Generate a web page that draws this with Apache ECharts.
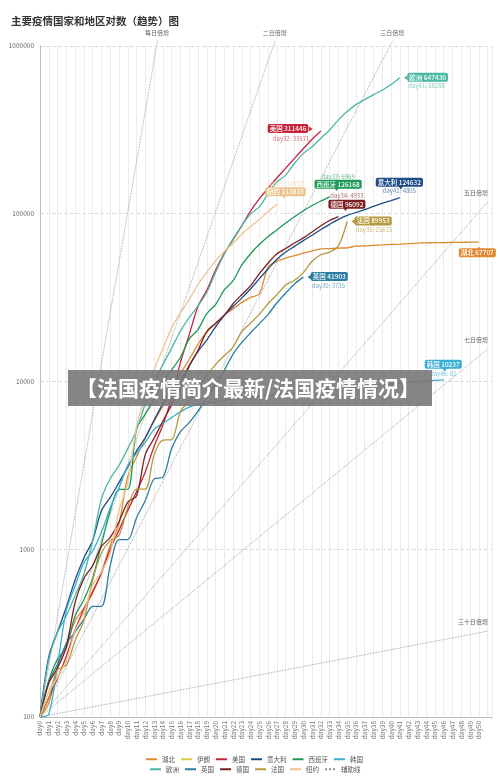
<!DOCTYPE html>
<html>
<head>
<meta charset="utf-8">
<title>主要疫情国家和地区对数（趋势）图</title>
<script src="https://cdn.jsdelivr.net/npm/echarts@6/dist/echarts.min.js"></script>
<style>
html, body { margin: 0; padding: 0; background: #fff; }
#main { width: 500px; height: 778px; }
</style>
</head>
<body>
<div id="main"></div>
<script>
// 累计确诊数，从第100例起按天排列（day0 起）
var hubei = [100, 121, 198, 270, 375, 444, 549, 729, 1052, 1423, 2714, 3554, 4586, 5806, 7153, 9074, 11177, 13522, 16678, 19665, 22112, 24953, 27100, 29631, 31728, 33366, 48206, 51986, 54406, 56249, 58182, 59989, 61682, 62031, 62442, 62662, 64084, 64287, 64786, 65187, 65596, 65914, 66337, 66907, 67103, 67217, 67332, 67466, 67592, 67666, 67707];
var iran = [];
var usa = [100, 130, 170, 230, 330, 440, 560, 720, 1000, 1300, 1700, 2200, 2900, 4100, 5500, 8000, 13000, 19000, 28000, 35000, 46000, 58000, 70000, 85000, 104000, 123000, 142000, 164000, 187000, 214000, 244000, 277875, 311446];
var italy = [100, 229, 322, 453, 655, 888, 1128, 1694, 2036, 2502, 3089, 3858, 4636, 5883, 7375, 9172, 10149, 12462, 15113, 17660, 21157, 24747, 27980, 31506, 35713, 41035, 47021, 53578, 59138, 63927, 69176, 74386, 80589, 86498, 92472, 97689, 101739, 105792, 110574, 115242, 119827, 124632];
var spain = [100, 165, 222, 259, 400, 500, 673, 1073, 1695, 2277, 2277, 5232, 6391, 7798, 9942, 11748, 13910, 17963, 20410, 25374, 28768, 35136, 39885, 49515, 57786, 65719, 73235, 80110, 87956, 95923, 104118, 112065, 119199, 126168];
var korea = [100, 104, 204, 433, 602, 833, 977, 1261, 1766, 2337, 3150, 3736, 4335, 5186, 5621, 6088, 6593, 7041, 7314, 7478, 7513, 7755, 7869, 7979, 8086, 8162, 8236, 8320, 8413, 8565, 8652, 8799, 8897, 8961, 9037, 9137, 9241, 9332, 9478, 9583, 9661, 9786, 9887, 9976, 10062, 10156, 10237];
var europe = [100, 220, 320, 400, 530, 710, 1120, 2000, 2630, 3160, 3980, 5130, 7400, 10000, 12600, 15800, 20000, 24000, 28200, 33900, 44700, 57500, 70800, 85100, 100000, 110000, 132000, 155000, 170000, 200000, 229000, 251000, 282000, 316000, 363000, 407000, 447000, 479000, 513000, 545000, 589142, 647430];
var uk = [100, 163, 206, 273, 321, 382, 456, 456, 798, 1140, 1140, 1543, 1950, 2626, 2689, 3983, 5018, 5683, 6650, 8077, 9529, 11658, 14543, 17089, 19522, 22141, 25150, 29474, 33718, 38168, 41903];
var germany = [100, 159, 196, 262, 482, 670, 799, 1040, 1176, 1457, 1908, 2078, 3675, 4585, 5795, 7272, 9257, 12327, 15320, 19848, 22213, 24873, 29056, 32986, 37323, 43938, 50871, 57695, 62095, 66885, 71808, 77872, 84794, 91159, 96092];
var france = [100, 130, 191, 204, 285, 377, 653, 949, 1126, 1209, 1784, 2281, 2281, 3661, 4469, 4499, 6633, 7652, 9043, 10871, 12612, 14282, 16018, 19856, 22304, 25233, 29155, 32964, 37575, 40174, 44550, 52128, 56989, 59105, 64338, 89953];
var newyork = [100, 142, 173, 217, 326, 421, 610, 732, 950, 1706, 2495, 5365, 8310, 11710, 15793, 20884, 25681, 30841, 37877, 44876, 52410, 59648, 66663, 75833, 83889, 92506, 103100, 113833];

// 辅助线：从 day0 的100例出发，按固定天数翻倍，[终点天数, 终点数值]
var guideNames = ['每日倍增', '二日倍增', '三日倍增', '五日倍增', '七日倍增', '三十日倍增'];
var guideEnds = [[13.4, 1080900], [26.8, 1080900], [40.2, 1080900], [51, 117630], [51, 15610], [51, 325]];

var yTicks = [100, 1000, 10000, 100000, 1000000];
var lastDay = 50;

var FONT = '"Noto Sans CJK SC", "Noto Sans", sans-serif';

function pairs(arr) {
  return arr.map(function (v, i) { return [i, v]; });
}

function light(hex) {
  var r = parseInt(hex.substr(1, 2), 16), g = parseInt(hex.substr(3, 2), 16), b = parseInt(hex.substr(5, 2), 16);
  var m = function (c) { return Math.round(c + (255 - c) * 0.35); };
  return 'rgb(' + m(r) + ',' + m(g) + ',' + m(b) + ')';
}

// 末端标签摆放方式
var SIDES = {
  right:  { box: [8, 0],    align: 'left',   sub: [9, 9],    tri: [6, 0],     rot: 90 },
  left:   { box: [-12, -2], align: 'right',  sub: [-11, 8],  tri: [-10, -2],  rot: -90 },
  topA:   { box: [9, -12],  align: 'center', sub: [9, -20],  tri: [7, -7.5],  rot: 180 },
  topB:   { box: [0, -15],  align: 'center', sub: [0, -6],   tri: [1, -10],   rot: 180 },
  bottom: { box: [-1, 11],  align: 'center', sub: null,      tri: [0, 6],     rot: 0 }
};

function endMarks(name, arr, color, side) {
  var d = arr.length - 1, v = arr[d], delta = v - arr[d - 1];
  var s = SIDES[side];
  var items = [
    {
      coord: [d, v], symbol: 'triangle', symbolSize: [5, 3.5], symbolRotate: s.rot, symbolOffset: s.tri,
      itemStyle: { color: color }, label: { show: false }
    },
    {
      coord: [d, v], symbol: 'rect', symbolSize: 1, itemStyle: { color: 'rgba(0,0,0,0)' },
      label: {
        show: true, position: s.box, align: s.align, verticalAlign: 'middle',
        formatter: name + ' ' + v, backgroundColor: color, color: '#fff', fontWeight: 500,
        fontSize: 6.5, lineHeight: 8, padding: [1, 2, 0, 2], borderRadius: 2, fontFamily: FONT
      }
    }
  ];
  if (s.sub) {
    items.push({
      coord: [d, v], symbol: 'rect', symbolSize: 1, itemStyle: { color: 'rgba(0,0,0,0)' },
      label: {
        show: true, position: s.sub, align: s.align, verticalAlign: 'middle',
        formatter: 'day' + d + ': ' + delta, color: light(color), fontSize: 6, fontFamily: FONT
      }
    });
  }
  return items;
}

var countries = [
  { name: '湖北', data: hubei, color: '#e0892e', side: 'bottom' },
  { name: '伊朗', data: iran, color: '#dcc94a', side: null },
  { name: '美国', data: usa, color: '#c8233b', side: 'left' },
  { name: '意大利', data: italy, color: '#1f4d87', side: 'topB' },
  { name: '西班牙', data: spain, color: '#1e9a57', side: 'topA' },
  { name: '韩国', data: korea, color: '#3aaed3', side: 'topB' },
  { name: '欧洲', data: europe, color: '#4bb7a5', side: 'right' },
  { name: '英国', data: uk, color: '#2a7da2', side: 'right' },
  { name: '德国', data: germany, color: '#7b1f1f', side: 'topA' },
  { name: '法国', data: france, color: '#b5993e', side: 'right' },
  { name: '纽约', data: newyork, color: '#ebc48f', side: 'topA' }
];

var series = [];

guideNames.forEach(function (g, i) {
  var end = guideEnds[i];
  var top = end[1] > yTicks[yTicks.length - 1];
  // 顶部的标签挂在网格上沿，右侧的挂在线的终点
  var anchor = top ? [end[0], yTicks[yTicks.length - 1] * 0.999] : end;
  series.push({
    name: '辅助线', type: 'line', clip: false, symbol: 'none', silent: true, z: 1,
    data: [[0, 100], end],
    lineStyle: { color: '#8f8f8f', width: 0.8, type: 'dotted' },
    itemStyle: { color: '#8f8f8f' },
    markPoint: {
      silent: true,
      data: [{
        coord: anchor, symbol: 'rect', symbolSize: 1, itemStyle: { color: 'rgba(0,0,0,0)' },
        label: {
          show: true, formatter: g, position: top ? [0, -10] : [1, -6],
          align: top ? 'center' : 'right', verticalAlign: 'bottom',
          color: '#666', fontSize: 6, fontFamily: FONT
        }
      }]
    }
  });
});

countries.forEach(function (c) {
  var s = {
    name: c.name, type: 'line', symbol: 'none', smooth: 0.3, z: 3,
    data: pairs(c.data),
    lineStyle: { color: c.color, width: 1.3 },
    itemStyle: { color: c.color }
  };
  if (c.side && c.data.length) {
    s.markPoint = { silent: true, data: endMarks(c.name, c.data, c.color, c.side) };
  }
  series.push(s);
});

var legendStyle = { fontSize: 6.5, color: '#555', fontFamily: FONT };

var option = {
  animation: false,
  backgroundColor: '#fff',
  textStyle: { fontFamily: FONT },
  title: {
    text: '主要疫情国家和地区对数（趋势）图',
    left: 6, top: 11,
    textStyle: { fontSize: 10.5, fontWeight: 'bold', color: '#333', fontFamily: FONT }
  },
  legend: [{
    data: ['湖北', '伊朗', '美国', '意大利', '西班牙', '韩国'],
    left: 140, top: 751, itemWidth: 11, itemHeight: 6, itemGap: 5,
    itemStyle: { opacity: 0 }, textStyle: legendStyle
  }, {
    data: ['欧洲', '英国', '德国', '法国', '纽约', '辅助线'],
    left: 144, top: 761, itemWidth: 11, itemHeight: 6, itemGap: 5,
    itemStyle: { opacity: 0 }, textStyle: legendStyle
  }],
  grid: { left: 40, right: 8, top: 46, bottom: 61 },
  xAxis: {
    type: 'value', min: 0, max: 51.5, interval: 1,
    axisLine: { lineStyle: { color: '#bbb' } },
    axisTick: { show: false },
    axisLabel: {
      rotate: 90, fontSize: 6.5, color: '#777', margin: 4,
      formatter: function (v) { return (v <= lastDay && v === Math.round(v)) ? 'day' + v : ''; }
    },
    splitLine: { show: true, lineStyle: { color: '#ececec', width: 1 } }
  },
  yAxis: {
    type: 'log', logBase: 10, min: yTicks[0], max: yTicks[yTicks.length - 1],
    axisLine: { show: true, lineStyle: { color: '#bbb' } },
    axisTick: { show: false },
    axisLabel: {
      fontSize: 6.5, color: '#666', margin: 6,
      formatter: function (v) { return String(Math.round(v)); }
    },
    splitLine: { show: true, lineStyle: { color: '#dcdcdc', type: 'dashed' } }
  },
  graphic: [{
    type: 'rect', z: 100,
    shape: { x: 68, y: 370, width: 364, height: 36 },
    style: { fill: 'rgba(120,120,120,0.9)' }
  }, {
    type: 'text', z: 101,
    style: {
      text: '【法国疫情简介最新/法国疫情情况】', x: 248, y: 388,
      align: 'center', verticalAlign: 'middle',
      fill: '#fff', fontSize: 21, fontWeight: 'bold', fontFamily: FONT
    }
  }],
  series: series
};

var chart = echarts.init(document.getElementById('main'), null, { renderer: 'canvas' });
chart.setOption(option);
</script>
</body>
</html>
